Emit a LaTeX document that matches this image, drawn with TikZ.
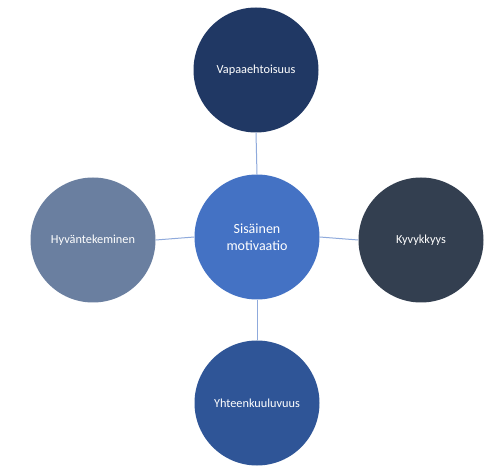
\documentclass[tikz,border=0pt]{standalone}
\usepackage{fontspec}
\setmainfont{Carlito}
\definecolor{cTop}{HTML}{203864}
\definecolor{cMid}{HTML}{4472C4}
\definecolor{cLeft}{HTML}{6A7FA0}
\definecolor{cRight}{HTML}{333F50}
\definecolor{cBot}{HTML}{2F5597}
\definecolor{cLine}{HTML}{8FAADC}
\tikzset{
  bubble/.style={circle, minimum size=125pt, inner sep=0pt, text=white, font=\fontsize{12.3}{14}\selectfont, align=center},
  link/.style={draw=cLine, line width=1pt}
}
\begin{document}
\begin{tikzpicture}[x=1pt,y=-1pt]
\useasboundingbox (0,0) rectangle (504,473);
\fill[white] (0,0) rectangle (504,473);
\node[bubble, fill=cMid, font=\fontsize{14}{16.5}\selectfont] (mid) at (257,237) {Sisäinen\\motivaatio};
\node[bubble, fill=cTop] (top) at (256,70) {Vapaaehtoisuus};
\node[bubble, fill=cLeft] (left) at (93,240) {Hyväntekeminen};
\node[bubble, fill=cRight] (right) at (421,240) {Kyvykkyys};
\node[bubble, fill=cBot] (bot) at (257,403) {Yhteenkuuluvuus};
\draw[link] (mid.north) -- (top.south);
\draw[link] (mid.west) -- (left.east);
\draw[link] (mid.east) -- (right.west);
\draw[link] (mid.south) -- (bot.north);
\end{tikzpicture}
\end{document}
